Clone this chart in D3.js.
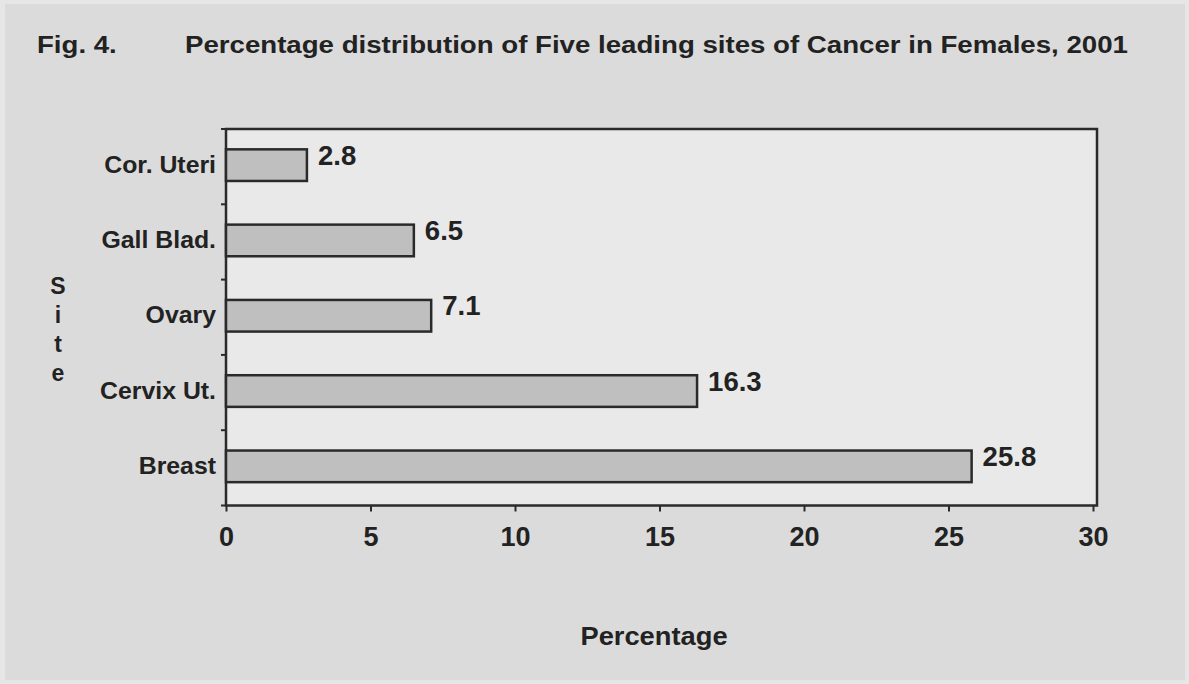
<!DOCTYPE html>
<html><head><meta charset="utf-8">
<script src="https://cdn.jsdelivr.net/npm/d3@7"></script>
<style>
html,body{margin:0;padding:0;background:#dcdcdc;}
svg{display:block;}
text{font-family:"Liberation Sans",Arial,Helvetica,sans-serif;font-weight:bold;fill:#222;}
</style></head><body>
<svg id="c" width="1189" height="684"></svg>
<script>
const categories = ["Cor. Uteri","Gall Blad.","Ovary","Cervix Ut.","Breast"];
const values = [2.8, 6.5, 7.1, 16.3, 25.8];
const xTicks = [0,5,10,15,20,25,30];
const titleFig = "Fig. 4.";
const titleText = "Percentage distribution of Five leading sites of Cancer in Females, 2001";
const xLabel = "Percentage";
const yLabel = "Site";

const svg = d3.select("#c");
svg.append("rect").attr("x",0).attr("y",0).attr("width",1189).attr("height",684).attr("fill","#e6e6e6");
svg.append("rect").attr("x",5).attr("y",4).attr("width",1180).attr("height",676).attr("fill","#dbdbdb");

const m = {left:226, top:129, right:1097, bottom:505.5};
const x = d3.scaleLinear().domain([0,30]).range([m.left, 1093]);
const y = d3.scaleBand().domain(categories).range([m.top, m.bottom]).paddingInner(0.58).paddingOuter(0.29);

function sText(parent, px, py, size, sx, anchor){
  return parent.append("text").attr("transform",`translate(${px},${py}) scale(${sx},1)`)
    .attr("font-size",size).attr("text-anchor",anchor||"start");
}

svg.append("rect").attr("x",m.left).attr("y",m.top).attr("width",m.right-m.left).attr("height",m.bottom-m.top)
  .attr("fill","#e9e9e9").attr("stroke","#2a2a2a").attr("stroke-width",2.5);

svg.selectAll("rect.bar").data(values).join("rect").attr("class","bar")
  .attr("x",x(0)).attr("y",(d,i)=>y(categories[i])-1.5).attr("width",d=>x(d)-x(0)).attr("height",y.bandwidth())
  .attr("fill","#bfbfbf").attr("stroke","#2a2a2a").attr("stroke-width",2.5);

values.forEach((d,i)=>{
  sText(svg, x(d)+11, y(categories[i])+y.bandwidth()/2-2, 27, 1.02).text(d.toFixed(1));
});

const xAxis = d3.axisBottom(x).tickValues(xTicks).tickSize(6).tickPadding(15).tickFormat(d3.format("d"));
const gx = svg.append("g").attr("transform",`translate(0,${m.bottom})`).call(xAxis);
gx.select(".domain").remove();
gx.selectAll("line").attr("stroke","#2a2a2a").attr("stroke-width",2);
gx.selectAll("text").attr("font-size",27).attr("fill","#222").attr("font-family",null);

const step = (m.bottom-m.top)/categories.length;
const bounds = d3.range(categories.length+1).map(i=>m.top+i*step);
svg.selectAll("line.yt").data(bounds).join("line").attr("class","yt")
  .attr("x1",m.left-5).attr("x2",m.left).attr("y1",d=>d).attr("y2",d=>d)
  .attr("stroke","#2a2a2a").attr("stroke-width",2);
categories.forEach((c,i)=>{
  sText(svg, m.left-10, m.top+i*step+step/2+6, 23, 1.08, "end").text(c);
});

sText(svg, 37, 53, 24, 1.15).text(titleFig);
sText(svg, 185, 53, 24, 1.152).text(titleText);

sText(svg, 654, 645, 26, 1.05, "middle").text(xLabel);
const yl = svg.append("text").attr("text-anchor","middle").attr("font-size",23);
yLabel.split("").forEach((ch,i)=>{
  yl.append("tspan").attr("x",58).attr("y",294+i*29).text(ch);
});
</script>
</body></html>
